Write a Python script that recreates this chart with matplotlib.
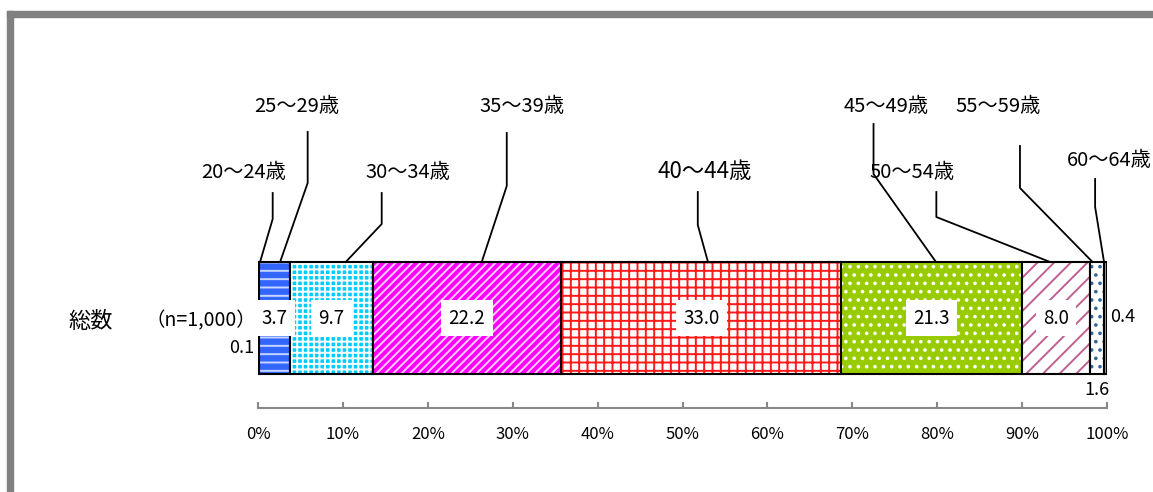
import numpy as np
import matplotlib.pyplot as plt
from matplotlib.patches import Rectangle

plt.rcParams['font.family'] = ['Noto Sans CJK JP', 'DejaVu Sans']
plt.rcParams['hatch.linewidth'] = 1.4

# data
categories = ['20～24歳', '25～29歳', '30～34歳', '35～39歳', '40～44歳',
              '45～49歳', '50～54歳', '55～59歳', '60～64歳']
values = [0.1, 3.7, 9.7, 22.2, 33.0, 21.3, 8.0, 1.6, 0.4]
row_label = '総数'
n_label = '（n=1,000）'
xticks = np.arange(0, 101, 10)

# styles per segment: face, hatch, hatch colour
faces = ['#3366ff', '#3366ff', '#00ccff', '#ff00ff', 'white', '#99cc00', 'white', 'white', '#a0a0a0']
hatches = ['--', '--', '+++', '////', '++', '..', '//', '..', None]
hcols = ['#c8d6ff', '#c8d6ff', 'white', '#ffd0ff', '#ff1a1a', 'white', '#c06090', '#336699', None]

# label layout (x in %, y in pixel rows)
lab_x = [-1.65, 4.6, 17.7, 31.1, 52.65, 74.0, 77.0, 87.2, 105.3]
lab_ha = ['center'] * 8 + ['right']
lab_y = [172, 107, 172, 107, 172, 107, 172, 107, 160]
lead_x = [1.73, 5.85, 14.57, 29.3, 51.8, 72.5, 79.9, 89.75, 98.6]
lead_top = [193, 132, 193, 133, 192, 124, 192, 146, 179]
lead_bend = [219, 183, 224, 186, 225, 174, 217, 188, 207]
lead_end = [0.24, 2.6, 10.33, 26.35, 53.0, 79.86, 93.3, 98.3, 99.65]

fig = plt.figure(figsize=(11.53, 4.92), dpi=100)
ax = fig.add_axes([258 / 1153, (492 - 408) / 492, 849 / 1153, 158 / 492])
ax.set_xlim(0, 100)
ax.set_ylim(408, 250)

bar_y, bar_h = 318, 112
left = np.concatenate([[0], np.cumsum(values)[:-1]])
for i, v in enumerate(values):
    ax.barh(bar_y, v, left=left[i], height=bar_h, color=faces[i], linewidth=0)
    if hatches[i]:
        ax.barh(bar_y, v, left=left[i], height=bar_h, color='none',
                edgecolor=hcols[i], hatch=hatches[i], linewidth=0)
    ax.barh(bar_y, v, left=left[i], height=bar_h, color='none',
            edgecolor='black', linewidth=1.5)

# value labels
for i, v in enumerate(values):
    cx = left[i] + v / 2
    if v >= 3:
        ax.text(cx, bar_y, f'{v:.1f}', ha='center', va='center', fontsize=13.5,
                bbox=dict(boxstyle='square,pad=0.4', fc='white', ec='none'))
ax.text(-0.4, 348, f'{values[0]:.1f}', ha='right', va='center', fontsize=13, clip_on=False)
ax.text(left[7] + values[7] / 2, 390, f'{values[7]:.1f}', ha='center', va='center', fontsize=13, clip_on=False)
ax.text(100.4, 317, f'{values[8]:.1f}', ha='left', va='center', fontsize=13, clip_on=False)

# leader lines and category labels
for i, c in enumerate(categories):
    ax.plot([lead_x[i], lead_x[i], lead_end[i]], [lead_top[i], lead_bend[i], 262],
            color='black', lw=1.3, clip_on=False)
    ax.text(lab_x[i], lab_y[i], c, ha=lab_ha[i], va='center',
            fontsize=16 if i == 4 else 14.5, clip_on=False)

ax.text(-19.7, bar_y + 3, row_label, ha='center', va='center', fontsize=16, clip_on=False)
ax.text(-0.2, bar_y + 3, n_label, ha='right', va='center', fontsize=14, clip_on=False)

for s in ['top', 'left', 'right']:
    ax.spines[s].set_visible(False)
ax.spines['bottom'].set_color('#888888')
ax.spines['bottom'].set_linewidth(1.5)
ax.set_yticks([])
ax.set_xticks(xticks)
ax.set_xticklabels([f'{t}%' for t in xticks], fontsize=12)
ax.tick_params(axis='x', direction='in', length=4, color='#888888', width=1.5, pad=13)

# outer frame
fig.patches.append(Rectangle((7 / 1153, 0), 6 / 1153, (492 - 11) / 492,
                             transform=fig.transFigure, color='#808080', zorder=0))
fig.patches.append(Rectangle((7 / 1153, (492 - 17) / 492), 1 - 7 / 1153, 6 / 492,
                             transform=fig.transFigure, color='#808080', zorder=0))

fig.savefig('out.png', dpi=100)
